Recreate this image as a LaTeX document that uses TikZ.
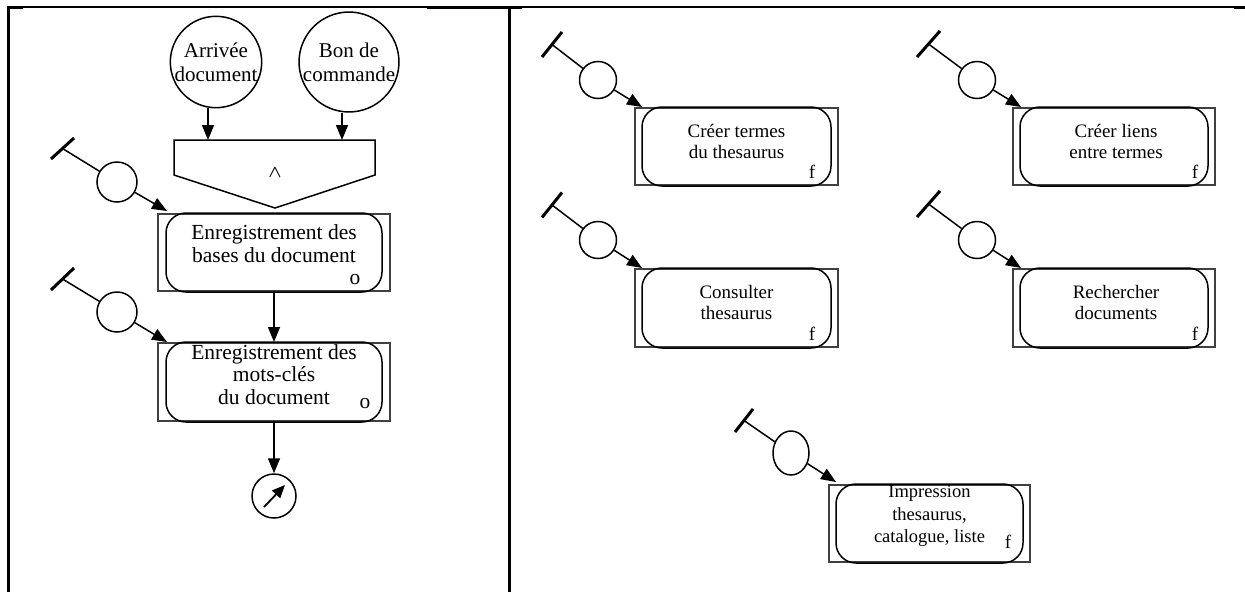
\documentclass[tikz,border=0pt]{standalone}
\usepackage{fontspec}
\setmainfont{Liberation Serif}
\usetikzlibrary{arrows.meta,shapes.geometric}
\begin{document}
\begin{tikzpicture}[x=1pt,y=-1pt,
  conn/.style={line width=1.5pt},
  arr/.style={conn,-{Triangle[length=15pt,width=12pt]}},
  evt/.style={circle,draw,line width=1.5pt,minimum size=86pt,inner sep=0pt,
    align=center,font=\fontsize{21}{24}\selectfont},
  trig/.style={circle,draw,line width=1.5pt,minimum size=40pt,inner sep=0pt},
  trigs/.style={trig,minimum size=37pt},
  tbar/.style={line width=3pt},
  outerbox/.style={draw=black!75,line width=2pt,inner sep=0pt},
  inner/.style={line width=1.5pt,rounded corners=20pt},
  lbl/.style={align=center,inner sep=0pt},
  big/.style={font=\fontsize{21.5}{23}\selectfont},
  small/.style={font=\fontsize{19}{21}\selectfont},
  tiny/.style={font=\fontsize{18.5}{22.5}\selectfont},
  frame/.style={line width=1.3pt},
  framethick/.style={line width=3pt},
]
\useasboundingbox (0,0) rectangle (1245,592);

% table rules
\draw[frame] (8,7) -- (1245,7);
\draw[framethick] (8,7) -- (23,7);
\draw[framethick] (427,7) -- (522,7);
\draw[framethick] (1234,7) -- (1245,7);
\draw[framethick] (8,5.5) -- (8,592);
\draw[framethick] (509,5.5) -- (509,592);

% ---------- left panel ----------
\node[evt] (evA) at (216,62) {Arrivée\\document};
\node[evt] (evB) at (349,62) {Bon de\\commande};

% synchronisation (AND)
\draw[conn] (174,140) -- (375,140) -- (375,175) -- (275,208) -- (174,175) -- cycle;
\coordinate (j1) at (208,140);
\coordinate (j2) at (342,140);
\node[inner sep=0pt,font=\fontsize{16}{16}\selectfont\boldmath] (andl) at (275,173) {$\wedge$};
\draw[arr] (evA.south -| j1) -- (j1);
\draw[arr] (evB.south -| j2) -- (j2);

% operation 1
\node[outerbox,minimum width=232pt,minimum height=77pt] (b1) at (274,252.5) {};
\draw[inner] ([xshift=9pt]b1.south west) rectangle ([xshift=-9pt]b1.north east);
\node[lbl,big] (b1t) at (274,243.5) {Enregistrement des\\bases du document};
\node[lbl,big] (b1o) at (355,280) {o};

% operation 2
\node[outerbox,minimum width=232pt,minimum height=78pt] (b2) at (274,382) {};
\draw[inner] ([xshift=9pt]b2.south west) rectangle ([xshift=-9pt]b2.north east);
\node[lbl,big,font=\fontsize{21.5}{22.5}\selectfont] (b2t) at (274,374.5) {Enregistrement des\\mots-clés\\du document};
\node[lbl,big] (b2o) at (365,404) {o};

\draw[arr] (b1.south) -- (b2.north);

% end of process
\node[circle,draw,line width=1.5pt,minimum size=44pt,inner sep=0pt] (endc) at (274,496) {};
\draw[arr] (b2.south) -- (endc.north);
\draw[line width=1.8pt,-{Triangle[length=13pt,width=11pt]}]
  ([shift={(-10,11)}]endc.center) -- ([shift={(11,-11)}]endc.center);

% triggers of the left panel
\coordinate (tl1) at (62.5,148.5);
\draw[tbar] ([shift={(-11.5,10.5)}]tl1) -- ([shift={(11.5,-10.5)}]tl1);
\node[trig] (cl1) at (117,182) {};
\coordinate (pl1) at ([xshift=10pt,yshift=2pt]b1.north west);
\draw[conn] (tl1) -- (cl1);
\draw[arr] (cl1) -- (pl1);

\coordinate (tl2) at (62.5,279);
\draw[tbar] ([shift={(-11.5,11)}]tl2) -- ([shift={(11.5,-11)}]tl2);
\node[trig] (cl2) at (117,312) {};
\coordinate (pl2) at ([xshift=10pt]b2.north west);
\draw[conn] (tl2) -- (cl2);
\draw[arr] (cl2) -- (pl2);

% ---------- right panel ----------
% operations
\node[outerbox,minimum width=203pt,minimum height=77pt] (bA) at (736.5,146.5) {};
\draw[inner] ([xshift=8pt]bA.south west) rectangle ([xshift=-8pt]bA.north east);
\node[lbl,small] (bAt) at (736.5,141.5) {Créer termes\\du thesaurus};
\node[lbl,small] (bAf) at (812,172) {f};

\node[outerbox,minimum width=202pt,minimum height=77pt] (bB) at (1114,146.5) {};
\draw[inner] ([xshift=8pt]bB.south west) rectangle ([xshift=-8pt]bB.north east);
\node[lbl,small] (bBt) at (1116,141.5) {Créer liens\\entre termes};
\node[lbl,small] (bBf) at (1195,172) {f};

\node[outerbox,minimum width=203pt,minimum height=78pt] (bC) at (736.5,308) {};
\draw[inner] ([xshift=8pt]bC.south west) rectangle ([xshift=-8pt]bC.north east);
\node[lbl,small] (bCt) at (736.5,302.5) {Consulter\\thesaurus};
\node[lbl,small] (bCf) at (812,334) {f};

\node[outerbox,minimum width=202pt,minimum height=78pt] (bD) at (1114,308) {};
\draw[inner] ([xshift=8pt]bD.south west) rectangle ([xshift=-8pt]bD.north east);
\node[lbl,small] (bDt) at (1116,302.5) {Rechercher\\documents};
\node[lbl,small] (bDf) at (1195,334) {f};

\node[outerbox,minimum width=201pt,minimum height=77pt] (bE) at (929.5,523.5) {};
\draw[inner] ([xshift=8pt]bE.south west) rectangle ([xshift=-8pt]bE.north east);
\node[lbl,tiny] (bEt) at (929.5,516) {Impression\\thesaurus,\\catalogue, liste};
\node[lbl,small] (bEf) at (1008,542) {f};

% triggers of the right panel
\coordinate (tA) at (552,44.5);
\draw[tbar] ([shift={(-10,12.5)}]tA) -- ([shift={(10,-12.5)}]tA);
\node[trigs] (cA) at (598,80) {};
\coordinate (pA) at ([xshift=8pt]bA.north west);
\draw[conn] (tA) -- (cA);
\draw[arr] (cA) -- (pA);

\coordinate (tB) at (928.5,44);
\draw[tbar] ([shift={(-11.5,13)}]tB) -- ([shift={(11.5,-13)}]tB);
\node[trigs] (cB) at (977,80) {};
\coordinate (pB) at ([xshift=9pt]bB.north west);
\draw[conn] (tB) -- (cB);
\draw[arr] (cB) -- (pB);

\coordinate (tC) at (552,205);
\draw[tbar] ([shift={(-10,12.5)}]tC) -- ([shift={(10,-12.5)}]tC);
\node[trigs] (cC) at (598,240) {};
\coordinate (pC) at ([xshift=8pt]bC.north west);
\draw[conn] (tC) -- (cC);
\draw[arr] (cC) -- (pC);

\coordinate (tD) at (928.5,204);
\draw[tbar] ([shift={(-11.5,13)}]tD) -- ([shift={(11.5,-13)}]tD);
\node[trigs] (cD) at (977,240) {};
\coordinate (pD) at ([xshift=9pt]bD.north west);
\draw[conn] (tD) -- (cD);
\draw[arr] (cD) -- (pD);

\coordinate (tE) at (744,420.5);
\draw[tbar] ([shift={(-9,11.5)}]tE) -- ([shift={(9,-11.5)}]tE);
\node[ellipse,draw,line width=1.5pt,minimum width=36pt,minimum height=44pt,inner sep=0pt] (cE) at (791,453) {};
\coordinate (pE) at ([xshift=8pt,yshift=2pt]bE.north west);
\draw[conn] (tE) -- (cE);
\draw[arr] (cE) -- (pE);
\end{tikzpicture}
\end{document}
